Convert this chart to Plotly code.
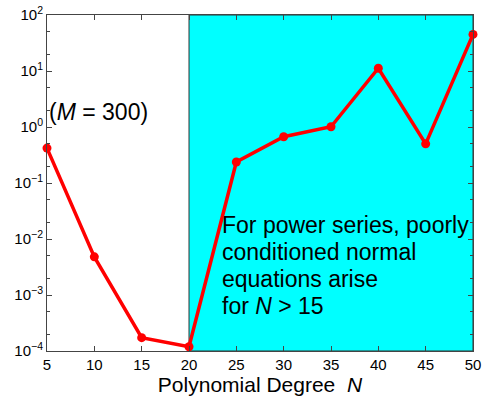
import plotly.graph_objects as go

degrees = [5, 10, 15, 20, 25, 30, 35, 40, 45, 50]
errors = [0.42, 0.0048, 1.73e-4, 1.19e-4, 0.237, 0.67, 1.01, 11.2, 0.50, 45.0]
ytick_vals = [1e-4, 1e-3, 1e-2, 1e-1, 1e0, 1e1, 1e2]
ytick_text = ["10<sup>\u22124</sup>", "10<sup>\u22123</sup>", "10<sup>\u22122</sup>",
              "10<sup>\u22121</sup>", "10<sup>0</sup>", "10<sup>1</sup>", "10<sup>2</sup>"]
xtick_vals = [5, 10, 15, 20, 25, 30, 35, 40, 45, 50]
shade_start, shade_end = 20, 50
note_lines = ["For power series, poorly", "conditioned normal", "equations arise",
              "for <i>N</i> > 15"]
note_line_y = [0.375, 0.295, 0.214, 0.134]

font_family = "Liberation Sans, Arial, Helvetica, sans-serif"

fig = go.Figure()
fig.add_shape(type="rect", xref="x", yref="paper", x0=shade_start, x1=shade_end, y0=0, y1=1,
              fillcolor="#00FFFF", line=dict(color="#333333", width=1), layer="below")
fig.add_trace(go.Scatter(x=degrees, y=errors, mode="lines+markers",
                         line=dict(color="#FF0000", width=3.5),
                         marker=dict(color="#FF0000", size=9),
                         showlegend=False, cliponaxis=False))

fig.add_annotation(x=5, y=0.711, xref="x", yref="paper", text="(<i>M</i> = 300)", showarrow=False,
                   xanchor="left", yanchor="middle", xshift=0,
                   font=dict(family=font_family, size=23, color="black"))
for line_text, ly in zip(note_lines, note_line_y):
    fig.add_annotation(x=23.27, y=ly, xref="x", yref="paper", text=line_text,
                       showarrow=False, xanchor="left", yanchor="middle", align="left",
                       font=dict(family=font_family, size=23, color="black"))

fig.update_layout(
    width=485, height=397,
    margin=dict(l=47, r=12, t=15, b=46, autoexpand=False),
    plot_bgcolor="white", paper_bgcolor="white",
    font=dict(family=font_family, color="black"),
    xaxis=dict(range=[5, 50], tickvals=xtick_vals, ticks="inside", ticklen=5,
               tickcolor="#444", showline=True, linecolor="#444", linewidth=1,
               mirror="ticks", showgrid=False, zeroline=False, automargin=False,
               tickfont=dict(size=15),
               title=dict(text="Polynomial Degree  <i>N</i>", font=dict(size=21), standoff=2)),
    yaxis=dict(type="log", range=[-4, 2], tickvals=ytick_vals, ticktext=ytick_text,
               ticks="inside", ticklen=5, tickcolor="#444", showline=True,
               linecolor="#444", linewidth=1, mirror="ticks", showgrid=False,
               zeroline=False, automargin=False, tickfont=dict(size=15),
               minor=dict(ticks="inside", ticklen=3, tickcolor="#444", showgrid=False)),
)

fig.write_html("out.html")
